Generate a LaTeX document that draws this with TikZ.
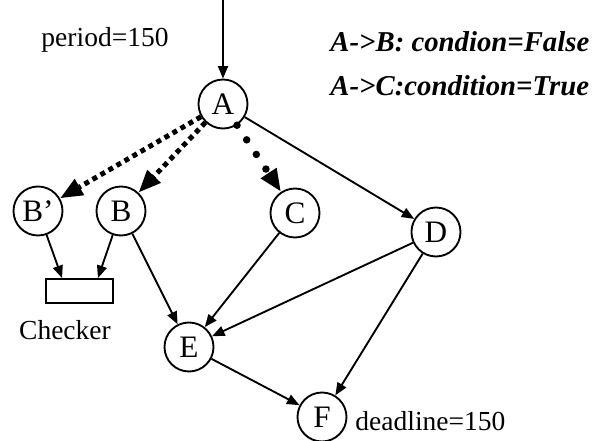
\documentclass[tikz,border=0pt]{standalone}
\usepackage{fontspec}
\setmainfont{Liberation Serif}
\usetikzlibrary{arrows.meta,calc}
\begin{document}
\begin{tikzpicture}[x=0.4pt,y=-0.4pt,
  task/.style={circle,draw,line width=0.75pt,minimum size=19.6pt,inner sep=0pt,font=\fontsize{12.5}{14}\selectfont},
  lbl/.style={inner sep=0pt,font=\fontsize{11}{13}\selectfont},
  cond/.style={inner sep=0pt,anchor=west,font=\fontsize{11.5}{13}\selectfont\bfseries\itshape},
  edge/.style={line width=0.75pt,-{Triangle[length=5pt,width=4pt]}},
  sqdot/.style={line width=2pt,dash pattern=on 2pt off 1.7pt,-{Triangle[length=9pt,width=7pt]}},
  rddot/.style={line width=3pt,line cap=round,dash pattern=on 0pt off 7pt,-{Triangle[length=9pt,width=7pt]}}]
\useasboundingbox (0,0) rectangle (596,441);
% nodes
\node[task] (A) at (223,104) {A};
\node[task] (Bp) at (38,211) {B’};
\node[task] (B) at (121,211) {B};
\node[task] (C) at (295,213) {C};
\node[task] (D) at (436,232) {D};
\node[task] (E) at (189,347) {E};
\node[task] (F) at (322,417) {F};
\node[draw,line width=0.75pt,minimum width=26.8pt,minimum height=9.6pt,inner sep=0pt] (chk) at (79.5,291) {};
\node[lbl] (chklbl) at (65,330) {Checker};
\node[lbl] (per) at (105,40) {period=150};
\node[lbl,anchor=west] (dl) at (355,421) {deadline=150};
\node[cond] (c1) at (330,42) {A->B: condion=False};
\node[cond] (c2) at (330,86) {A->C:condition=True};
\coordinate (top) at (223,0);
% edges
\draw[edge] (top) -- (A);
\draw[sqdot] (A) -- (Bp);
\draw[sqdot] (A) -- (B);
\draw[rddot] (A) -- (C);
\draw[edge] (A) -- (D);
\draw[edge] (Bp) -- ($(chk.north west)+(17,0)$);
\draw[edge] (B) -- ($(chk.north east)+(-16,0)$);
\draw[edge] (B) -- (E);
\draw[edge] (C) -- (E);
\draw[edge] (D) -- (E);
\draw[edge] (D) -- (F);
\draw[edge] (E) -- (F);
\end{tikzpicture}
\end{document}
